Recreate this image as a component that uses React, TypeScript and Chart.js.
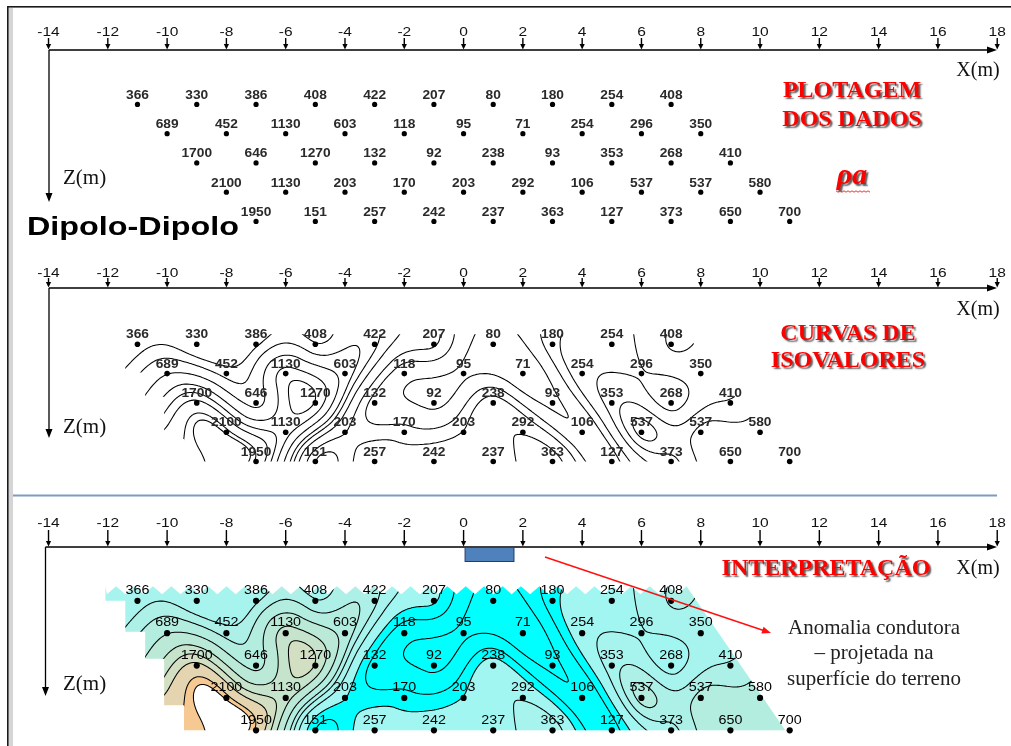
import React, { useEffect, useRef } from "react";
import { Chart, registerables } from "chart.js";

Chart.register(...registerables);

// ---------------- data ----------------
const xTicks = [-14, -12, -10, -8, -6, -4, -2, 0, 2, 4, 6, 8, 10, 12, 14, 16, 18];

const levelsN = [1, 2, 3, 4, 5];
const xN1 = [-11, -9, -7, -5, -3, -1, 1, 3, 5, 7];
const xN2 = [-10, -8, -6, -4, -2, 0, 2, 4, 6, 8];
const xN3 = [-9, -7, -5, -3, -1, 1, 3, 5, 7, 9];
const xN4 = [-8, -6, -4, -2, 0, 2, 4, 6, 8, 10];
const xN5 = [-7, -5, -3, -1, 1, 3, 5, 7, 9, 11];
const rhoN1 = [366, 330, 386, 408, 422, 207, 80, 180, 254, 408];
const rhoN2 = [689, 452, 1130, 603, 118, 95, 71, 254, 296, 350];
const rhoN3 = [1700, 646, 1270, 132, 92, 238, 93, 353, 268, 410];
const rhoN4 = [2100, 1130, 203, 170, 203, 292, 106, 537, 537, 580];
const rhoN5 = [1950, 151, 257, 242, 237, 363, 127, 373, 650, 700];

const contourLevels = [100, 150, 200, 300, 400, 500, 700, 1000, 1300, 1600, 2000, 2140];
const bandColors = [
  "#00ffff", "#00ffff", "#00ffff", "#a2f6f2", "#a7f3ee", "#adf0e8", "#b3ede0",
  "#bbe9d7", "#c6e4cc", "#d2dfc2", "#e4d5b0", "#f6c892", "#ffffff",
];

// anomaly projected on surface (x, m)
const anomalyStart = 0.05;
const anomalyEnd = 1.7;

// blanking boundary of the interpolated section (x, n)
const blankStepX = [-12.08, -11.41, -10.74, -10.1, -9.43];
const blankStepN = [1.0, 1.96, 2.79, 4.23, 5.0];
const blankRightTopX = 7.52;
const blankRightBottomX = 10.85;

const rowXs = [xN1, xN2, xN3, xN4, xN5];
const rowRhos = [rhoN1, rhoN2, rhoN3, rhoN4, rhoN5];

// ---------------- interpolation helpers ----------------
const U0 = -9, U1 = 11, V0 = -11, V1 = 8;

function buildLattice(): number[][] {
  const NU = U1 - U0 + 1, NV = V1 - V0 + 1;
  const G: number[][] = [];
  for (let i = 0; i < NU; i++) G.push(new Array(NV).fill(NaN));
  rowXs.forEach((xs, k) =>
    xs.forEach((x, j) => {
      const r = levelsN[k];
      const u = (x + r) / 2, v = (x - r) / 2;
      G[u - U0][v - V0] = Math.log10(rowRhos[k][j]);
    })
  );
  let changed = true;
  while (changed) {
    changed = false;
    const snap = G.map((c) => c.slice());
    for (let i = 0; i < NU; i++)
      for (let j = 0; j < NV; j++) {
        if (!isNaN(snap[i][j])) continue;
        let s = 0, c = 0;
        const nb = [[i - 1, j], [i + 1, j], [i, j - 1], [i, j + 1]];
        for (const [a, b] of nb) {
          if (a < 0 || b < 0 || a >= NU || b >= NV) continue;
          const val = snap[a][b];
          if (!isNaN(val)) { s += val; c++; }
        }
        if (c > 0) { G[i][j] = s / c; changed = true; }
      }
  }
  return G;
}

function cr(p0: number, p1: number, p2: number, p3: number, t: number) {
  return 0.5 * (2 * p1 + (-p0 + p2) * t + (2 * p0 - 5 * p1 + 4 * p2 - p3) * t * t + (-p0 + 3 * p1 - 3 * p2 + p3) * t * t * t);
}

function sampleLog(G: number[][], x: number, r: number) {
  const u = (x + r) / 2 - U0, v = (x - r) / 2 - V0;
  const iu = Math.floor(u), iv = Math.floor(v);
  const tu = u - iu, tv = v - iv;
  const NU = G.length, NV = G[0].length;
  const g = (a: number, b: number) => G[Math.min(NU - 1, Math.max(0, a))][Math.min(NV - 1, Math.max(0, b))];
  const col: number[] = [];
  for (let m = -1; m <= 2; m++) col.push(cr(g(iu - 1, iv + m), g(iu, iv + m), g(iu + 1, iv + m), g(iu + 2, iv + m), tu));
  return cr(col[0], col[1], col[2], col[3], tv);
}

function marching(grid: number[][], gx: number[], gr: number[], level: number, seg: (a: number, b: number, c: number, d: number) => void) {
  for (let j = 0; j < gr.length - 1; j++)
    for (let i = 0; i < gx.length - 1; i++) {
      const a = grid[j][i], b = grid[j][i + 1], c = grid[j + 1][i + 1], d = grid[j + 1][i];
      let idx = 0;
      if (a > level) idx |= 1;
      if (b > level) idx |= 2;
      if (c > level) idx |= 4;
      if (d > level) idx |= 8;
      if (idx === 0 || idx === 15) continue;
      const x0 = gx[i], x1 = gx[i + 1], y0 = gr[j], y1 = gr[j + 1];
      const T = () => [x0 + ((level - a) / (b - a)) * (x1 - x0), y0];
      const R = () => [x1, y0 + ((level - b) / (c - b)) * (y1 - y0)];
      const B = () => [x0 + ((level - d) / (c - d)) * (x1 - x0), y1];
      const L = () => [x0, y0 + ((level - a) / (d - a)) * (y1 - y0)];
      const s = (p: number[], q: number[]) => seg(p[0], p[1], q[0], q[1]);
      const center = (a + b + c + d) / 4;
      switch (idx) {
        case 1: case 14: s(T(), L()); break;
        case 2: case 13: s(T(), R()); break;
        case 3: case 12: s(L(), R()); break;
        case 4: case 11: s(R(), B()); break;
        case 6: case 9: s(T(), B()); break;
        case 7: case 8: s(L(), B()); break;
        case 5:
          if (center > level) { s(T(), R()); s(L(), B()); } else { s(T(), L()); s(R(), B()); }
          break;
        case 10:
          if (center > level) { s(T(), L()); s(R(), B()); } else { s(T(), R()); s(L(), B()); }
          break;
      }
    }
}

function hexRgb(h: string) {
  return [parseInt(h.slice(1, 3), 16), parseInt(h.slice(3, 5), 16), parseInt(h.slice(5, 7), 16)];
}

// ---------------- drawing helpers ----------------
const SANS = "'Liberation Sans', Arial, sans-serif";
const SERIF = "'Liberation Serif', 'Times New Roman', serif";

function text(ctx: CanvasRenderingContext2D, s: string, x: number, y: number, font: string, color: string, align: CanvasTextAlign = "center", sx = 1) {
  ctx.save();
  ctx.translate(x, y);
  ctx.scale(sx, 1);
  ctx.font = font;
  ctx.fillStyle = color;
  ctx.textAlign = align;
  ctx.textBaseline = "alphabetic";
  ctx.fillText(s, 0, 0);
  ctx.restore();
}

function redTitle(ctx: CanvasRenderingContext2D, s: string, x: number, y: number, font: string) {
  ctx.save();
  ctx.font = font;
  ctx.textAlign = "center";
  ctx.textBaseline = "alphabetic";
  ctx.shadowColor = "rgba(40,40,40,0.75)";
  ctx.shadowOffsetX = 2;
  ctx.shadowOffsetY = 2;
  ctx.shadowBlur = 1.5;
  ctx.fillStyle = "#ff0000";
  ctx.fillText(s, x, y);
  ctx.restore();
}

const PANELS = [
  { yId: "y1", axisY: 50, tickTop: 38, labelBase: 36, zX: 49, zEnd: 202, zBase: 184, xmBase: 76, dotR: 2.6, labelDy: -5.5, labelFont: `bold 12.5px ${SANS}`, labelColor: "#2a2a2a" },
  { yId: "y2", axisY: 288, tickTop: 278, labelBase: 277, zX: 49, zEnd: 438, zBase: 433, xmBase: 315, dotR: 2.8, labelDy: -6, labelFont: `bold 12.5px ${SANS}`, labelColor: "#2a2a2a" },
  { yId: "y3", axisY: 547, tickTop: 530, labelBase: 527, zX: 45.5, zEnd: 696, zBase: 690, xmBase: 574, dotR: 3.1, labelDy: -6.7, labelFont: `13px ${SANS}`, labelColor: "#000" },
];

function maskPath(ctx: CanvasRenderingContext2D, xs: any, ys: any, top: number, zig: boolean) {
  const P = (x: number, r: number): [number, number] => [xs.getPixelForValue(x), ys.getPixelForValue(r)];
  ctx.beginPath();
  ctx.moveTo(...P(blankStepX[0], top));
  for (let k = 0; k < blankStepX.length; k++) {
    ctx.lineTo(...P(blankStepX[k], blankStepN[k]));
    if (k < blankStepX.length - 1) ctx.lineTo(...P(blankStepX[k + 1], blankStepN[k]));
  }
  ctx.lineTo(...P(blankRightBottomX, blankStepN[blankStepN.length - 1]));
  const [rx, ry] = P(blankRightTopX, top);
  ctx.lineTo(rx, ry);
  if (zig) {
    const lx = P(blankStepX[0], top)[0];
    const per = 18.4;
    let x = rx;
    let up = true;
    while (x - per / 2 > lx) {
      x -= per / 2;
      ctx.lineTo(x, up ? ry + 8 : ry);
      up = !up;
    }
    ctx.lineTo(lx, ry);
  }
  ctx.closePath();
}

// ---------------- component ----------------
export default function App() {
  const ref = useRef<HTMLCanvasElement | null>(null);

  useEffect(() => {
    const canvas = ref.current!;
    const G = buildLattice();

    const gx: number[] = [];
    for (let x = -12.4; x <= 11.3; x += 0.07) gx.push(x);
    const gr: number[] = [];
    for (let r = 0.45; r <= 5.1; r += 0.035) gr.push(r);
    const grid = gr.map((r) => gx.map((x) => sampleLog(G, x, r)));
    const bandRgb = bandColors.map(hexRgb);
    const logLevels = contourLevels.map((l) => Math.log10(l));

    const datasets = PANELS.map((p) => ({
      data: levelsN.flatMap((n, k) => rowXs[k].map((x, j) => ({ x, y: n, v: rowRhos[k][j] }))),
      yAxisID: p.yId,
      xAxisID: "x",
      pointRadius: p.dotR,
      pointHoverRadius: p.dotR,
      pointBackgroundColor: "#000",
      pointBorderWidth: 0,
      showLine: false,
    }));

    const drawContours = (ctx: CanvasRenderingContext2D, xs: any, ys: any) => {
      ctx.save();
      ctx.beginPath();
      for (const lv of logLevels) {
        marching(grid, gx, gr, lv, (x1, r1, x2, r2) => {
          ctx.moveTo(xs.getPixelForValue(x1), ys.getPixelForValue(r1));
          ctx.lineTo(xs.getPixelForValue(x2), ys.getPixelForValue(r2));
        });
      }
      ctx.lineWidth = 1.05;
      ctx.lineCap = "round";
      ctx.strokeStyle = "#000";
      ctx.stroke();
      ctx.restore();
    };

    const backPlugin = {
      id: "back",
      beforeDatasetsDraw(chart: any) {
        const ctx: CanvasRenderingContext2D = chart.ctx;
        const xs = chart.scales.x;
        ctx.save();
        ctx.fillStyle = "#fff";
        ctx.fillRect(0, 0, 1011, 746);
        // frame
        ctx.fillStyle = "#d5d5d5";
        ctx.fillRect(8.5, 8, 4.5, 738);
        ctx.fillStyle = "#1a1a1a";
        ctx.fillRect(7, 6, 1004, 1.6);
        ctx.fillRect(7, 6, 1.6, 740);
        ctx.fillStyle = "#7b9cc0";
        ctx.fillRect(13, 494.5, 984, 2);
        ctx.restore();

        // fill of panel 3
        const y3 = chart.scales.y3;
        const X0 = 95, X1 = 800, Y0 = 580, Y1 = 740;
        const w = X1 - X0, h = Y1 - Y0;
        const off = document.createElement("canvas");
        off.width = w;
        off.height = h;
        const octx = off.getContext("2d")!;
        const img = octx.createImageData(w, h);
        const colX = Array.from({ length: w }, (_, i) => xs.getValueForPixel(X0 + i + 0.5));
        for (let j = 0; j < h; j++) {
          const r = y3.getValueForPixel(Y0 + j + 0.5);
          for (let i = 0; i < w; i++) {
            const lv = sampleLog(G, colX[i], r);
            let b = 0;
            while (b < logLevels.length && lv > logLevels[b]) b++;
            const c = bandRgb[b];
            const o = (j * w + i) * 4;
            img.data[o] = c[0];
            img.data[o + 1] = c[1];
            img.data[o + 2] = c[2];
            img.data[o + 3] = 255;
          }
        }
        octx.putImageData(img, 0, 0);
        ctx.save();
        maskPath(ctx, xs, y3, 0.55, true);
        ctx.clip();
        ctx.drawImage(off, X0, Y0);
        drawContours(ctx, xs, y3);
        ctx.restore();

        // contours of panel 2
        const y2 = chart.scales.y2;
        ctx.save();
        maskPath(ctx, xs, y2, 0.66, false);
        ctx.clip();
        drawContours(ctx, xs, y2);
        ctx.restore();

        // axes
        PANELS.forEach((p) => {
          ctx.save();
          ctx.strokeStyle = "#000";
          ctx.fillStyle = "#000";
          ctx.lineWidth = 1.3;
          ctx.beginPath();
          ctx.moveTo(p.zX, p.axisY);
          ctx.lineTo(990, p.axisY);
          ctx.moveTo(p.zX, p.axisY);
          ctx.lineTo(p.zX, p.zEnd - 6);
          ctx.stroke();
          ctx.beginPath();
          ctx.moveTo(997, p.axisY);
          ctx.lineTo(987, p.axisY - 3.5);
          ctx.lineTo(987, p.axisY + 3.5);
          ctx.closePath();
          ctx.moveTo(p.zX, p.zEnd);
          ctx.lineTo(p.zX - 3.5, p.zEnd - 9);
          ctx.lineTo(p.zX + 3.5, p.zEnd - 9);
          ctx.closePath();
          ctx.fill();
          xTicks.forEach((t) => {
            const px = xs.getPixelForValue(t);
            ctx.beginPath();
            ctx.lineWidth = 1.4;
            ctx.moveTo(px, p.tickTop);
            ctx.lineTo(px, p.axisY - 4);
            ctx.stroke();
            ctx.beginPath();
            ctx.moveTo(px, p.axisY - 0.5);
            ctx.lineTo(px - 2.6, p.axisY - 6);
            ctx.lineTo(px + 2.6, p.axisY - 6);
            ctx.closePath();
            ctx.fill();
            text(ctx, String(t), px, p.labelBase, `13.5px ${SANS}`, "#111", "center", 1.15);
          });
          text(ctx, "X(m)", 978, p.xmBase, `20px ${SERIF}`, "#111", "center");
          text(ctx, "Z(m)", 63, p.zBase, `21px ${SERIF}`, "#111", "left");
          ctx.restore();
        });

        // anomaly block on the surface
        const ax0 = xs.getPixelForValue(anomalyStart);
        const ax1 = xs.getPixelForValue(anomalyEnd);
        ctx.save();
        ctx.fillStyle = "#4f81bd";
        ctx.strokeStyle = "#243f66";
        ctx.lineWidth = 1;
        ctx.fillRect(ax0, 547.5, ax1 - ax0, 14);
        ctx.strokeRect(ax0, 547.5, ax1 - ax0, 14);
        ctx.restore();
      },
      afterDatasetsDraw(chart: any) {
        const ctx: CanvasRenderingContext2D = chart.ctx;
        chart.data.datasets.forEach((ds: any, di: number) => {
          const meta = chart.getDatasetMeta(di);
          const p = PANELS[di];
          meta.data.forEach((el: any, i: number) => {
            const v = ds.data[i].v;
            text(ctx, String(v), el.x, el.y + p.labelDy, p.labelFont, p.labelColor, "center", 1.1);
          });
        });

        // titles
        text(ctx, "Dipolo-Dipolo", 27, 235, `bold 26.5px ${SANS}`, "#000", "left", 1.22);
        redTitle(ctx, "PLOTAGEM", 852, 97, `bold 24px ${SERIF}`);
        redTitle(ctx, "DOS DADOS", 852, 126, `bold 24px ${SERIF}`);
        redTitle(ctx, "ρa", 852, 184, `italic bold 30px ${SERIF}`);
        ctx.save();
        ctx.strokeStyle = "#ff3030";
        ctx.lineWidth = 1;
        ctx.beginPath();
        for (let x = 836, k = 0; x <= 871; x += 2, k++) {
          const y = 191 + (k % 2 ? 1.2 : -0.2);
          if (k === 0) ctx.moveTo(x, y); else ctx.lineTo(x, y);
        }
        ctx.stroke();
        ctx.restore();
        redTitle(ctx, "CURVAS DE", 848, 340, `bold 24px ${SERIF}`);
        redTitle(ctx, "ISOVALORES", 848, 367, `bold 24px ${SERIF}`);
        redTitle(ctx, "INTERPRETAÇÃO", 826, 575, `bold 24px ${SERIF}`);

        // annotation
        ctx.save();
        ctx.strokeStyle = "#ff1010";
        ctx.fillStyle = "#ff1010";
        ctx.lineWidth = 1.4;
        const sx = 545, sy = 557, ex = 771, ey = 633;
        const ang = Math.atan2(ey - sy, ex - sx);
        ctx.beginPath();
        ctx.moveTo(sx, sy);
        ctx.lineTo(ex - 7 * Math.cos(ang), ey - 7 * Math.sin(ang));
        ctx.stroke();
        ctx.beginPath();
        ctx.moveTo(ex, ey);
        ctx.lineTo(ex - 9 * Math.cos(ang) + 3.5 * Math.sin(ang), ey - 9 * Math.sin(ang) - 3.5 * Math.cos(ang));
        ctx.lineTo(ex - 9 * Math.cos(ang) - 3.5 * Math.sin(ang), ey - 9 * Math.sin(ang) + 3.5 * Math.cos(ang));
        ctx.closePath();
        ctx.fill();
        ctx.restore();
        text(ctx, "Anomalia condutora", 874, 634, `21px ${SERIF}`, "#222", "center");
        text(ctx, "– projetada na", 874, 659, `21px ${SERIF}`, "#222", "center");
        text(ctx, "superfície do terreno", 874, 685, `21px ${SERIF}`, "#222", "center");
      },
    };

    const chart = new Chart(canvas, {
      type: "scatter",
      data: { datasets: datasets as any },
      options: {
        animation: false,
        responsive: false,
        maintainAspectRatio: false,
        layout: { padding: 0 },
        events: [],
        plugins: { legend: { display: false }, tooltip: { enabled: false }, title: { display: false } },
        scales: {
          x: { type: "linear", display: false, min: -15.532, max: 18.36 },
          y1: { type: "linear", display: false, reverse: true, min: -2.464, max: 22.824 },
          y2: { type: "linear", display: false, reverse: true, min: -10.632, max: 14.592 },
          y3: { type: "linear", display: false, reverse: true, min: -17.459, max: 5.389 },
        },
      } as any,
      plugins: [backPlugin as any],
    });
    return () => chart.destroy();
  }, []);

  return (
    <div style={{ position: "fixed", left: 0, top: 0, width: 1011, height: 746, background: "#fff" }}>
      <canvas ref={ref} width={1011} height={746} style={{ display: "block", width: 1011, height: 746 }} />
    </div>
  );
}
